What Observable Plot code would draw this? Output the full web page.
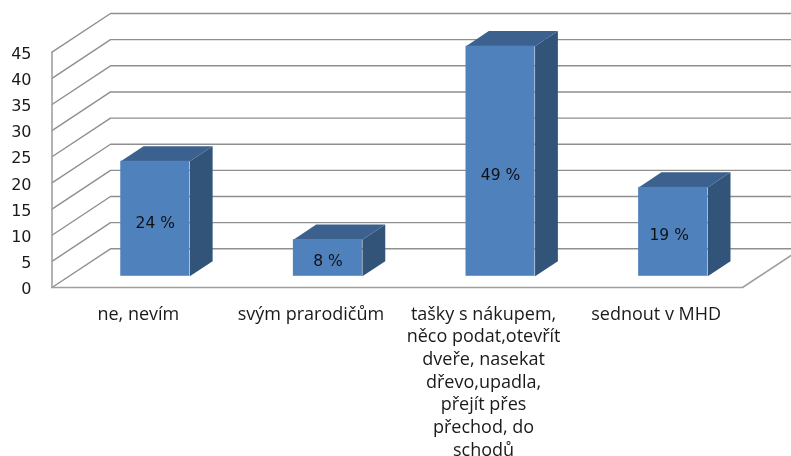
<!DOCTYPE html>
<html>
<head>
<meta charset="utf-8">
<script src="https://cdn.jsdelivr.net/npm/d3@7"></script>
<script src="https://cdn.jsdelivr.net/npm/@observablehq/plot@0.6"></script>
<style>
html,body{margin:0;padding:0;background:#fff;overflow:hidden}
svg{display:block;filter:blur(0.45px)}
</style>
</head>
<body>
<div id="chart"></div>
<script>
const categories = ["ne, nevím", "svým prarodičům", "tašky s nákupem,\nněco podat,otevřít\ndveře, nasekat\ndřevo,upadla,\npřejít přes\npřechod, do\nschodů", "sednout v MHD"];
const values = [22, 7, 44, 17];
const percentLabels = ["24 %", "8 %", "49 %", "19 %"];
const labelHeights = [10.1, 3, 19.3, 7.8];
const labelShifts = [0, 0, 0, -0.023];
const ticks = [0, 5, 10, 15, 20, 25, 30, 35, 40, 45];

// oblique projection of the 3D chart box, in scale units
const depthX = 0.339, depthY = 7.4;
const barWidth = 0.4, barFront = 0.29, barBack = 0.68;
const px = (x, z) => x + z * depthX;
const py = (v, z) => v + z * depthY;
const pt = (x, v, z, id) => ({x: px(x, z), y: py(v, z), id});

const grid = ticks.flatMap(t => [pt(0, t, 0, t), pt(0, t, 1, t), pt(4, t, 1, t)]);
const floorEdge = [pt(0, 0, 0, 0), pt(4, 0, 0, 0), pt(4, 0, 1, 0)];
const wallEdge = [pt(0, 0, 0, 0), pt(0, 45, 0, 0)];

const bars = values.map((v, i) => ({i, v, x0: i + 0.5 - barWidth / 2, x1: i + 0.5 + barWidth / 2}));
const front = bars.map(b => ({x1: px(b.x0, barFront), x2: px(b.x1, barFront), y1: py(0, barFront), y2: py(b.v, barFront)}));
const side = bars.flatMap(b => [pt(b.x1, 0, barFront, b.i), pt(b.x1, 0, barBack, b.i), pt(b.x1, b.v, barBack, b.i), pt(b.x1, b.v, barFront, b.i)]);
const top_ = bars.flatMap(b => [pt(b.x0, b.v, barFront, b.i), pt(b.x1, b.v, barFront, b.i), pt(b.x1, b.v, barBack, b.i), pt(b.x0, b.v, barBack, b.i)]);
const barText = bars.map(b => ({x: px(b.i + 0.5 + labelShifts[b.i], barFront), y: py(labelHeights[b.i], barFront), t: percentLabels[b.i]}));
const catText = categories.map((c, i) => ({x: i + 0.5, y: 0, t: c}));

const chart = Plot.plot({
  width: 791, height: 456,
  marginLeft: 51.5, marginRight: 49, marginTop: 51.7, marginBottom: 169,
  style: {fontFamily: "'DejaVu Sans', sans-serif", background: "#fff", color: "#1a1a1a"},
  x: {domain: [0, 4], axis: null},
  y: {domain: [0, 45], axis: null},
  marks: [
    Plot.line(grid, {x: "x", y: "y", z: "id", stroke: "#8f8f8f", strokeWidth: 1.4}),
    Plot.line(floorEdge, {x: "x", y: "y", stroke: "#a0a0a0", strokeWidth: 1.6}),
    Plot.line(wallEdge, {x: "x", y: "y", stroke: "#a0a0a0", strokeWidth: 1.6}),
    Plot.line(side, {x: "x", y: "y", z: "id", fill: "#325479", stroke: "none"}),
    Plot.line(top_, {x: "x", y: "y", z: "id", fill: "#3c618f", stroke: "none"}),
    Plot.rect(front, {x1: "x1", x2: "x2", y1: "y1", y2: "y2", fill: "#4f81bd"}),
    Plot.text(barText, {x: "x", y: "y", text: "t", fontSize: 15.5, fill: "#111"}),
    Plot.axisY({ticks, tickSize: 0, tickPadding: 20.5, fontSize: 16, dy: 1.5, tickFormat: d => String(d), anchor: "left", label: null}),
    Plot.text(catText, {x: "x", y: "y", text: "t", lineAnchor: "top", dy: 16, fontSize: 18, lineHeight: 1.26, fontFamily: "'Open Sans', sans-serif", fill: "#1a1a1a"})
  ]
});
document.getElementById("chart").appendChild(chart);
</script>
</body>
</html>
